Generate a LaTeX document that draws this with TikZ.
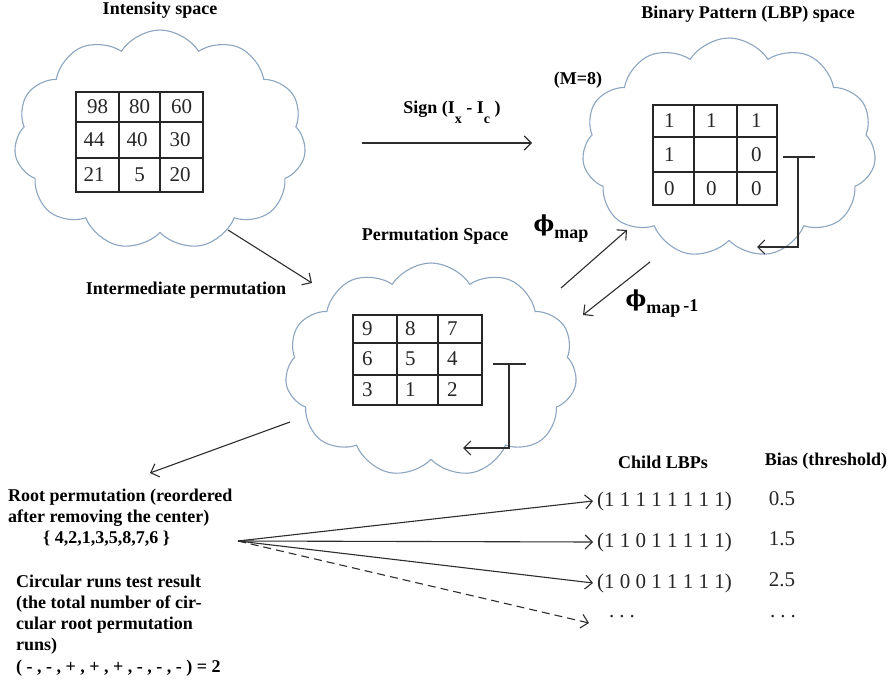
\documentclass[tikz,border=0pt]{standalone}
\usepackage{fontspec}
\newfontfamily\tnr{Liberation Serif}
\newfontfamily\phifont{DejaVu Serif}
\usetikzlibrary{shapes.symbols,arrows.meta}
\definecolor{cloudline}{RGB}{140,165,192}
\definecolor{ink}{RGB}{45,45,45}
\tikzset{
  space/.style={cloud, cloud puffs=11, cloud puff arc=115, cloud ignores aspect,
    draw=cloudline, line width=1.1pt, inner sep=0pt},
  lbl/.style={font=\tnr\bfseries\fontsize{18}{21}\selectfont, inner sep=0pt, align=left, text=black},
  num/.style={font=\tnr\fontsize{21}{23}\selectfont, inner sep=0pt, text=black!85},
  row/.style={num, anchor=west, inner sep=4pt},
  gridline/.style={draw=black!85, line width=1.3pt},
  conn/.style={draw=ink, line width=1.1pt, -{Straight Barb[length=7pt,width=14pt]}},
  plain/.style={draw=ink, line width=1.1pt},
}
\newcommand{\bigphi}{{\phifont\bfseries\fontsize{22}{22}\selectfont ϕ}}
\newcommand{\lowtext}[2]{\raisebox{#1}{#2}}
\newcommand{\spreaddots}{.\hspace{5pt}.\hspace{5pt}.}
\begin{document}
\begin{tikzpicture}[x=1pt,y=-1pt]
\useasboundingbox (0,0) rectangle (890,684);

% the three spaces
\node[space, minimum width=292pt, minimum height=220pt] (intensity) at (160,140) {};
\node[space, minimum width=294pt, minimum height=220pt] (lbp) at (729,148) {};
\node[space, minimum width=292pt, minimum height=214pt] (perm) at (431,370) {};

% titles
\node[lbl] (tint) at (160,10) {Intensity space};
\node[lbl] (tlbp) at (748,14) {Binary Pattern (LBP) space};
\node[lbl] (tm) at (578,80) {(M=8)};
\node[lbl] (tperm) at (435,236) {Permutation Space};

% intensity grid
\draw[gridline] (76,92) rectangle (203,192);
\draw[gridline] (119,92) -- (119,192) (160,92) -- (160,192)
                (76,122) -- (203,122) (76,158) -- (203,158);
\node[num] (i11) at (97.5,107) {98};
\node[num] (i12) at (139.5,107) {80};
\node[num] (i13) at (181.5,107) {60};
\node[num] (i21) at (94,140) {44};
\node[num] (i22) at (137,140) {40};
\node[num] (i23) at (180,140) {30};
\node[num] (i31) at (94,175) {21};
\node[num] (i32) at (139.5,175) {5};
\node[num] (i33) at (180,175) {20};

% binary pattern grid
\draw[gridline] (653,105) rectangle (777,205);
\draw[gridline] (694,105) -- (694,205) (737,105) -- (737,205)
                (653,137) -- (777,137) (653,172) -- (777,172);
\foreach \r/\y/\a/\b/\c in {1/121/1/1/1, 2/154.5/1//0, 3/188.5/0/0/0} {
  \node[num, anchor=west] (b\r1) at (664,\y) {\a};
  \node[num, anchor=west] (b\r2) at (706,\y) {\b};
  \node[num, anchor=west] (b\r3) at (751,\y) {\c};
}

% permutation grid
\draw[gridline] (353,315) rectangle (482,405);
\draw[gridline] (397,315) -- (397,405) (438,315) -- (438,405)
                (353,343) -- (482,343) (353,375) -- (482,375);
\foreach \r/\y/\a/\b/\c in {1/329/9/8/7, 2/359/6/5/4, 3/390/3/1/2} {
  \node[num, anchor=west] (p\r1) at (362,\y) {\a};
  \node[num, anchor=west] (p\r2) at (405,\y) {\b};
  \node[num, anchor=west] (p\r3) at (447,\y) {\c};
}

% circular read-out brackets
\coordinate (lbpbarL) at (783,157);
\coordinate (lbpbarR) at (815,157);
\coordinate (lbpbarM) at (798,157);
\coordinate (lbpret) at (757,247);
\draw[plain] (lbpbarL) -- (lbpbarR);
\draw[conn] (lbpbarM) |- (lbpret);

\coordinate (permbarL) at (493,364);
\coordinate (permbarR) at (526,364);
\coordinate (permbarM) at (509,364);
\coordinate (permret) at (463,448);
\draw[plain] (permbarL) -- (permbarR);
\draw[conn] (permbarM) |- (permret);

% sign mapping
\coordinate (signA) at (362,143);
\coordinate (signB) at (532,143);
\draw[conn] (signA) -- (signB);
\node[lbl] (tsign) at (452,112) {Sign (I\lowtext{-10pt}{\fontsize{14}{14}\selectfont x} - I\lowtext{-10pt}{\fontsize{14}{14}\selectfont c} )};

% intermediate permutation
\coordinate (ipA) at (228,230);
\coordinate (ipB) at (312,283);
\draw[conn] (ipA) -- (ipB);
\node[lbl] (tip) at (186,290) {Intermediate permutation};

% phi maps
\coordinate (phA) at (561,288);
\coordinate (phB) at (627,230);
\draw[conn] (phA) -- (phB);
\coordinate (phiA) at (650,262);
\coordinate (phiB) at (583,315);
\draw[conn] (phiA) -- (phiB);
\node[lbl] (tphi) at (561,229) {\bigphi\lowtext{-7pt}{map}};
\node[lbl] (tphiinv) at (662,304) {\bigphi\lowtext{-7pt}{map\,\lowtext{2pt}{-1}}};

% to the root permutation
\coordinate (rtA) at (290,422);
\coordinate (rtB) at (150,473);
\draw[conn] (rtA) -- (rtB);

\node[lbl, anchor=north west] (root) at (8,489) {Root permutation (reordered\\after removing the center)\\\hspace{35pt}\{ 4,2,1,3,5,8,7,6 \}};

\node[lbl, anchor=north west] (circ) at (16,575) {Circular runs test result\\(the total number of cir-\\cular root permutation\\runs)};
\node[lbl, anchor=west] (runs) at (16,668) {( - , - , + , + , + , - , - , - ) = 2};

% child patterns and their biases
\node[lbl] (hchild) at (663,462) {Child LBPs};
\node[lbl] (hbias) at (826,461) {Bias (threshold)};

\node[row] (c1) at (593,501) {(1 1 1 1 1 1 1 1)};
\node[row] (c2) at (593,542) {(1 1 0 1 1 1 1 1)};
\node[row] (c3) at (593,583) {(1 0 0 1 1 1 1 1)};
\node[row] (c4) at (605,617) {\spreaddots};
\node[num] (v1) at (782,499) {0.5};
\node[num] (v2) at (782,539) {1.5};
\node[num] (v3) at (782,580) {2.5};
\node[num] (v4) at (783,617) {\spreaddots};

\coordinate (fan) at (238,541);
\coordinate (dotsend) at (589,623);
\draw[conn] (fan) -- (c1.west);
\draw[conn] (fan) -- (c2.west);
\draw[conn] (fan) -- (c3.west);
\draw[conn, dashed, dash pattern=on 8pt off 5pt] (fan) -- (dotsend);
\end{tikzpicture}
\end{document}
